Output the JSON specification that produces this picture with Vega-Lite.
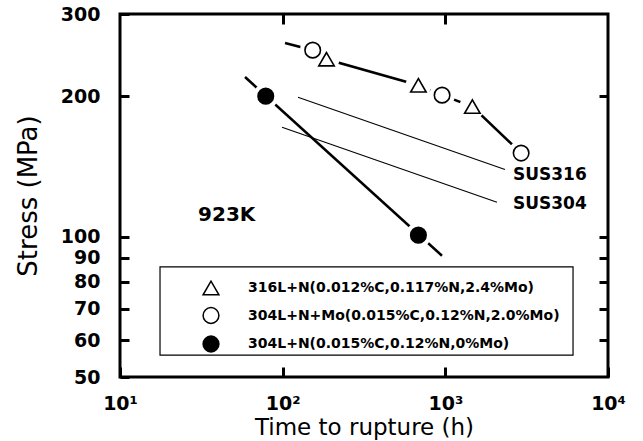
{
  "$schema": "https://vega.github.io/schema/vega-lite/v6.json",
  "width": 488,
  "height": 363,
  "autosize": "none",
  "padding": {"left": 120, "top": 14, "right": 35, "bottom": 64},
  "background": "white",
  "config": {
    "view": {"stroke": "black", "strokeWidth": 3},
    "axis": {"grid": false, "domain": false, "tickColor": "black", "tickWidth": 3, "labelColor": "black", "titleColor": "black"}
  },
  "datasets": {
    "pts": [
      {"grade": "316L+N(0.012%C,0.117%N,2.4%Mo)", "t": 186, "s": 240},
      {"grade": "316L+N(0.012%C,0.117%N,2.4%Mo)", "t": 683, "s": 211},
      {"grade": "316L+N(0.012%C,0.117%N,2.4%Mo)", "t": 1466, "s": 190},
      {"grade": "304L+N+Mo(0.015%C,0.12%N,2.0%Mo)", "t": 153, "s": 251},
      {"grade": "304L+N+Mo(0.015%C,0.12%N,2.0%Mo)", "t": 955, "s": 201},
      {"grade": "304L+N+Mo(0.015%C,0.12%N,2.0%Mo)", "t": 2924, "s": 151},
      {"grade": "304L+N(0.015%C,0.12%N,0%Mo)", "t": 78.7, "s": 200},
      {"grade": "304L+N(0.015%C,0.12%N,0%Mo)", "t": 683, "s": 100.7}
    ],
    "fits": [
      {"line": "A", "t": 103.4, "s": 260},
      {"line": "A", "t": 153, "s": 251},
      {"line": "A", "t": 186, "s": 240},
      {"line": "A", "t": 683, "s": 211},
      {"line": "A", "t": 955, "s": 201},
      {"line": "A", "t": 1466, "s": 190},
      {"line": "A", "t": 2924, "s": 151},
      {"line": "B", "t": 58.7, "s": 219.8},
      {"line": "B", "t": 953.5, "s": 91.0}
    ],
    "sus": [
      {"line": "SUS316", "t": 124.2, "s": 199.0},
      {"line": "SUS316", "t": 2327, "s": 139.3},
      {"line": "SUS304", "t": 99.1, "s": 171.6},
      {"line": "SUS304", "t": 2078, "s": 118.4}
    ],
    "labels": [
      {"label": "923K", "t": 30.2, "s": 111, "size": "big"},
      {"label": "SUS316", "t": 2606, "s": 135.5, "size": "mid"},
      {"label": "SUS304", "t": 2606, "s": 117.2, "size": "mid"}
    ],
    "box": [
      {"t1": 17.62, "t2": 6096, "s1": 55.7, "s2": 86.1}
    ]
  },
  "resolve": {"scale": {"x": "independent", "y": "independent"}, "axis": {"x": "independent", "y": "independent"}},
  "layer": [
    {
      "data": {"name": "box"},
      "mark": {"type": "rect", "fill": "white", "stroke": "black", "strokeWidth": 1.2},
      "encoding": {
        "x": {"field": "t1", "type": "quantitative", "scale": {"type": "log", "domain": [10, 10000], "nice": false}, "axis": null},
        "x2": {"field": "t2"},
        "y": {"field": "s1", "type": "quantitative", "scale": {"type": "log", "domain": [50, 300], "nice": false}, "axis": null},
        "y2": {"field": "s2"}
      }
    },
    {
      "data": {"name": "sus"},
      "mark": {"type": "line", "color": "black", "strokeWidth": 1.1},
      "encoding": {
        "x": {"field": "t", "type": "quantitative", "scale": {"type": "log", "domain": [10, 10000], "nice": false},
          "axis": {"orient": "top", "values": [100, 1000], "labels": false, "title": null, "ticks": true, "tickSize": -10, "domain": false, "zindex": 2}},
        "y": {"field": "s", "type": "quantitative", "scale": {"type": "log", "domain": [50, 300], "nice": false},
          "axis": {"orient": "right", "values": [60, 70, 80, 90, 100, 200], "labels": false, "title": null, "ticks": true, "tickSize": -9, "domain": false, "zindex": 2}},
        "detail": {"field": "line"}
      }
    },
    {
      "data": {"name": "fits"},
      "mark": {"type": "line", "color": "black", "strokeWidth": 2.6},
      "encoding": {
        "x": {"field": "t", "type": "quantitative", "scale": {"type": "log", "domain": [10, 10000], "nice": false}, "axis": null},
        "y": {"field": "s", "type": "quantitative", "scale": {"type": "log", "domain": [50, 300], "nice": false}, "axis": null},
        "detail": {"field": "line"}
      }
    },
    {
      "data": {"name": "pts"},
      "mark": {"type": "point", "shape": "circle", "filled": true, "fill": "white", "stroke": null, "size": 650, "opacity": 1},
      "encoding": {
        "x": {"field": "t", "type": "quantitative", "scale": {"type": "log", "domain": [10, 10000], "nice": false}, "axis": null},
        "y": {"field": "s", "type": "quantitative", "scale": {"type": "log", "domain": [50, 300], "nice": false}, "axis": null}
      }
    },
    {
      "data": {"name": "pts"},
      "mark": {"type": "point", "filled": true, "stroke": "black", "strokeWidth": 1.6, "size": 240, "opacity": 1},
      "encoding": {
        "x": {"field": "t", "type": "quantitative", "scale": {"type": "log", "domain": [10, 10000], "nice": false},
          "axis": {"orient": "bottom", "values": [10, 100, 1000, 10000], "tickSize": -10, "zindex": 2,
            "labelExpr": "datum.value == 10 ? '10¹' : datum.value == 100 ? '10²' : datum.value == 1000 ? '10³' : '10⁴'",
            "labelFont": "DejaVu Sans", "labelFontWeight": "bold", "labelFontSize": 19, "labelPadding": 27,
            "labelFlush": false, "labelOverlap": false,
            "title": "Time to rupture (h)", "titleFont": "DejaVu Sans", "titleFontWeight": "normal", "titleFontSize": 23,
            "titleX": 244, "titleY": 57, "titleBaseline": "alphabetic", "titleAlign": "center"}},
        "y": {"field": "s", "type": "quantitative", "scale": {"type": "log", "domain": [50, 300], "nice": false},
          "axis": {"orient": "left", "values": [50, 60, 70, 80, 90, 100, 200, 300], "tickSize": -9, "zindex": 2,
            "labelFont": "DejaVu Sans", "labelFontWeight": "bold", "labelFontSize": 19, "labelPadding": 29,
            "labelFlush": false, "labelOverlap": false, "labelBaseline": "middle",
            "title": "Stress (MPa)", "titleFont": "DejaVu Sans", "titleFontWeight": "normal", "titleFontSize": 26,
            "titleX": -84, "titleY": 181.5, "titleBaseline": "alphabetic", "titleAlign": "center", "titleAngle": -90}},
        "shape": {"field": "grade", "type": "nominal",
          "scale": {"domain": ["316L+N(0.012%C,0.117%N,2.4%Mo)", "304L+N+Mo(0.015%C,0.12%N,2.0%Mo)", "304L+N(0.015%C,0.12%N,0%Mo)"], "range": ["triangle-up", "circle", "circle"]},
          "legend": {"title": null, "orient": "none", "legendX": 82, "legendY": 265, "labelFont": "DejaVu Sans", "labelFontWeight": "bold", "labelFontSize": 14, "labelLimit": 500, "labelOffset": 28, "symbolSize": 250, "rowPadding": 6.5, "padding": 0, "labelColor": "black",
            "encode": {"symbols": {"update": {"stroke": {"value": "black"}, "strokeWidth": {"value": 1.6}}}}}},
        "fill": {"field": "grade", "type": "nominal",
          "scale": {"domain": ["316L+N(0.012%C,0.117%N,2.4%Mo)", "304L+N+Mo(0.015%C,0.12%N,2.0%Mo)", "304L+N(0.015%C,0.12%N,0%Mo)"], "range": ["white", "white", "black"]},
          "legend": {"title": null, "orient": "none", "legendX": 82, "legendY": 265, "labelFont": "DejaVu Sans", "labelFontWeight": "bold", "labelFontSize": 14, "labelLimit": 500, "labelOffset": 28, "symbolSize": 250, "rowPadding": 6.5, "padding": 0, "labelColor": "black",
            "encode": {"symbols": {"update": {"stroke": {"value": "black"}, "strokeWidth": {"value": 1.6}}}}}}
      }
    },
    {
      "data": {"name": "labels"},
      "mark": {"type": "text", "align": "left", "baseline": "middle", "font": "DejaVu Sans", "fontWeight": "bold", "color": "black"},
      "encoding": {
        "x": {"field": "t", "type": "quantitative", "scale": {"type": "log", "domain": [10, 10000], "nice": false}, "axis": null},
        "y": {"field": "s", "type": "quantitative", "scale": {"type": "log", "domain": [50, 300], "nice": false}, "axis": null},
        "text": {"field": "label"},
        "size": {"field": "size", "type": "nominal", "scale": {"domain": ["big", "mid"], "range": [20, 17]}, "legend": null}
      }
    }
  ]
}
